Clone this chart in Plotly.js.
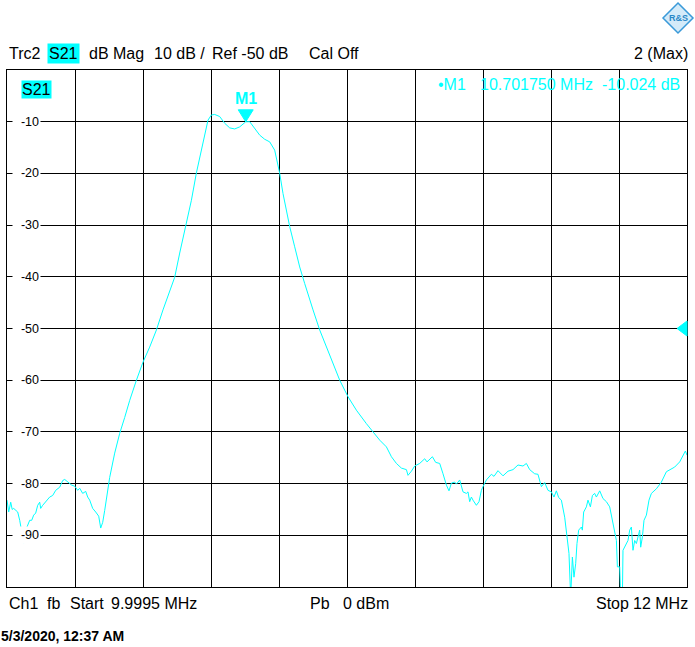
<!DOCTYPE html>
<html>
<head>
<meta charset="utf-8">
<script src="https://cdn.plot.ly/plotly-3.0.1.min.js"></script>
<style>
  html, body { margin: 0; padding: 0; background: #ffffff; }
  #chart { width: 695px; height: 647px; }
</style>
</head>
<body>
<div id="chart"></div>
<script>
// ---- data ----
const freqMHz = [
  9.9995, 10.0045, 10.0104, 10.0148, 10.0192, 10.0251, 10.0310, 10.0369, 10.0427, 10.0486,
  10.0545, 10.0604, 10.0663, 10.0722, 10.0780, 10.0839, 10.0898, 10.0957, 10.0986, 10.1045,
  10.1133, 10.1251, 10.1339, 10.1428, 10.1545, 10.1634, 10.1693, 10.1781, 10.1899, 10.1987,
  10.2075, 10.2134, 10.2222, 10.2310, 10.2369, 10.2428, 10.2516, 10.2605, 10.2693, 10.2752,
  10.2810, 10.2869, 10.2928, 10.3016, 10.3163, 10.3310, 10.3458, 10.3605, 10.3802, 10.3996,
  10.4192, 10.4390, 10.4584, 10.4781, 10.4928, 10.5076, 10.5273, 10.5420, 10.5567, 10.5664,
  10.5811, 10.5908, 10.6008, 10.6105, 10.6252, 10.6399, 10.6547, 10.6694, 10.6841, 10.70175,
  10.7135, 10.7282, 10.7429, 10.7576, 10.7723, 10.7870, 10.7938, 10.8018, 10.8115, 10.8215,
  10.8312, 10.8459, 10.8606, 10.8753, 10.8900, 10.8998, 10.9195, 10.9392, 10.9586, 10.9783,
  11.0027, 11.0274, 11.0568, 11.0763, 11.0960, 11.1157, 11.1304, 11.1451, 11.1598, 11.1745,
  11.1792, 11.1892, 11.1989, 11.2136, 11.2283, 11.2351, 11.2510, 11.2607, 11.2725, 11.2822,
  11.2922, 11.2998, 11.3069, 11.3166, 11.3216, 11.3313, 11.3410, 11.3510, 11.3557, 11.3607,
  11.3657, 11.3704, 11.3804, 11.3881, 11.3951, 11.3998, 11.4098, 11.4245, 11.4322, 11.4439,
  11.4587, 11.4734, 11.4881, 11.5028, 11.5175, 11.5275, 11.5372, 11.5519, 11.5616, 11.5716,
  11.5813, 11.5910, 11.6010, 11.6087, 11.6157, 11.6225, 11.6304, 11.6402, 11.6469, 11.6528,
  11.6578, 11.6628, 11.6675, 11.6725, 11.6763, 11.6813, 11.6893, 11.6922, 11.6960, 11.7040,
  11.7087, 11.7158, 11.7217, 11.7284, 11.7334, 11.7432, 11.7529, 11.7629, 11.7726, 11.7823,
  11.7873, 11.7923, 11.7952, 11.8020, 11.8049, 11.8099, 11.8117, 11.8167, 11.8264, 11.8314,
  11.8364, 11.8411, 11.8461, 11.8511, 11.8558, 11.8608, 11.8638, 11.8688, 11.8735, 11.8805,
  11.8882, 11.8952, 11.9100, 11.9247, 11.9394, 11.9541, 11.9638, 11.9785, 11.9882, 11.9953,
  12.0000
];
const s21dB = [
  -83.2, -85.5, -83.6, -85.0, -84.8, -85.2, -85.5, -87.1, -89.0, -91.5,
  -89.0, -88.1, -87.1, -87.1, -86.1, -85.7, -84.2, -83.6, -84.8, -84.2,
  -83.6, -82.6, -82.3, -81.3, -80.7, -79.4, -79.2, -79.7, -80.3, -80.5,
  -81.3, -80.9, -81.9, -81.5, -82.6, -83.2, -84.8, -85.5, -86.3, -88.6,
  -87.5, -85.2, -82.3, -78.8, -74.1, -70.3, -67.2, -63.9, -60.0, -56.5,
  -53.6, -50.3, -46.4, -43.0, -40.1, -35.4, -29.6, -25.2, -19.9, -16.8,
  -12.2, -9.7, -8.7, -8.6, -9.0, -10.3, -11.2, -11.4, -11.0, -10.024,
  -10.0, -11.3, -12.6, -13.4, -13.9, -15.5, -17.4, -20.0, -23.9, -27.1,
  -30.3, -34.2, -38.1, -41.3, -44.5, -46.4, -50.3, -53.6, -56.8, -60.0,
  -63.2, -65.8, -68.4, -70.0, -71.6, -72.9, -74.8, -76.1, -77.0, -77.3,
  -78.4, -77.6, -76.6, -76.1, -75.2, -75.8, -74.8, -75.9, -76.1, -78.1,
  -80.3, -81.4, -79.9, -79.7, -80.1, -79.3, -81.6, -81.9, -81.6, -83.5,
  -82.6, -83.2, -84.2, -83.5, -81.3, -80.6, -79.3, -78.2, -78.6, -77.5,
  -78.5, -77.6, -77.3, -76.4, -76.6, -76.1, -77.3, -78.1, -78.2, -80.6,
  -79.8, -81.3, -81.6, -82.6, -81.4, -82.7, -83.2, -86.5, -90.3, -93.5,
  -102.0, -94.2, -98.1, -95.5, -91.6, -89.0, -88.4, -89.0, -85.5, -84.5,
  -83.2, -84.5, -82.3, -81.9, -82.6, -81.4, -82.9, -83.5, -84.5, -87.7,
  -90.0, -91.0, -96.1, -96.1, -102.0, -102.0, -92.9, -92.3, -91.0, -89.0,
  -88.4, -92.9, -91.0, -91.6, -90.3, -89.0, -92.3, -90.3, -87.1, -86.1,
  -83.2, -81.9, -81.0, -79.7, -77.7, -77.1, -76.8, -75.8, -74.5, -73.7,
  -74.5
];
const startMHz = 9.9995;
const stopMHz = 12.0;
const markerFreq = [10.70175];
const markerDb = [-10.024];
const refLevelDb = -50;
const yTickVals = [-10, -20, -30, -40, -50, -60, -70, -80, -90];
const yTickLabels = ['-10', '-20', '-30', '-40', '-50', '-60', '-70', '-80', '-90'];

// ---- layout helpers (pixel -> paper) ----
const PL = 7, PR = 687, PT = 70, PB = 587;
const px = x => (x - PL) / (PR - PL);
const py = y => (PB - y) / (PB - PT);
const CYAN = '#00FFFF';
const FONT = 'Liberation Sans, Arial, sans-serif';

function txt(text, x, y, opts) {
  return Object.assign({
    text: text, xref: 'paper', yref: 'paper', x: px(x), y: py(y),
    xanchor: 'left', yanchor: 'middle', showarrow: false,
    font: {family: FONT, size: 16, color: '#000000'}
  }, opts || {});
}

const annotations = [
  txt('Trc2', 7, 54),
  txt('S21', 47, 54, {bgcolor: CYAN, borderpad: 1}),
  txt('dB Mag', 87, 54),
  txt('10 dB /', 152, 54),
  txt('Ref -50 dB', 210, 54),
  txt('Cal Off', 307, 54),
  txt('2 (Max)', 690, 54, {xanchor: 'right'}),
  txt('S21', 36.5, 90, {xanchor: 'center', bgcolor: CYAN, borderpad: 0}),
  txt('\u2022M1', 436, 85, {font: {family: FONT, size: 16, color: CYAN}}),
  txt('10.701750 MHz', 478, 85, {font: {family: FONT, size: 16, color: CYAN}}),
  txt('-10.024 dB', 600, 85, {font: {family: FONT, size: 16, color: CYAN}}),
  {
    text: '<b>M1</b>', xref: 'x', yref: 'y', x: markerFreq[0], y: markerDb[0],
    xanchor: 'center', yanchor: 'middle', yshift: 23, showarrow: false,
    font: {family: FONT, size: 16, color: CYAN}
  },
  txt('Ch1', 7, 603),
  txt('fb', 45, 603),
  txt('Start', 68, 603),
  txt('9.9995 MHz', 109, 603),
  txt('Pb', 308, 603),
  txt('0 dBm', 341, 603),
  txt('Stop', 594, 603),
  txt('12 MHz', 690, 603, {xanchor: 'right'}),
  txt('<b>5/3/2020, 12:37 AM</b>', -1, 636, {font: {family: FONT, size: 14, color: '#000000'}}),
  txt('<b>R&amp;S</b>', 678, 18, {xanchor: 'center', font: {family: FONT, size: 9, color: '#2a88c8'}})
];

yTickVals.forEach((v, i) => {
  annotations.push({
    text: yTickLabels[i], xref: 'paper', yref: 'y', x: px(41), y: v,
    xanchor: 'right', yanchor: 'middle', showarrow: false,
    width: 25, align: 'right', bgcolor: '#ffffff', borderpad: 1,
    font: {family: FONT, size: 12.5, color: '#000000'}
  });
});

const shapes = [
  // M1 marker triangle (tip at the marker point)
  {
    type: 'path', xref: 'x', yref: 'y', xsizemode: 'pixel', ysizemode: 'pixel',
    xanchor: markerFreq[0], yanchor: markerDb[0],
    path: 'M0,0 L-7.5,12 L7.5,12 Z', fillcolor: CYAN, line: {color: CYAN, width: 1}
  },
  // reference level triangle on the right edge
  {
    type: 'path', xref: 'paper', yref: 'y', xsizemode: 'pixel', ysizemode: 'pixel',
    xanchor: 1, yanchor: refLevelDb,
    path: 'M-10,0 L0,7.5 L0,-7.5 Z', fillcolor: CYAN, line: {color: CYAN, width: 1}
  },
  // R&S logo diamond
  {
    type: 'path', xref: 'paper', yref: 'paper',
    path: 'M' + px(678) + ',' + py(3) + ' L' + px(693) + ',' + py(18) + ' L' + px(678) + ',' + py(33) + ' L' + px(663) + ',' + py(18) + ' Z',
    fillcolor: '#d4ebf9', line: {color: '#3a9ad9', width: 1.5}
  }
];

const trace = {
  x: freqMHz, y: s21dB, type: 'scatter', mode: 'lines',
  line: {color: CYAN, width: 1}, hoverinfo: 'skip', showlegend: false
};

const layout = {
  width: 695, height: 647,
  margin: {l: PL, r: 695 - PR, t: PT, b: 647 - PB, pad: 0},
  paper_bgcolor: '#ffffff', plot_bgcolor: '#ffffff',
  showlegend: false,
  xaxis: {
    range: [startMHz, stopMHz], tick0: startMHz, dtick: (stopMHz - startMHz) / 10,
    showgrid: true, gridcolor: '#000000', gridwidth: 1,
    showline: true, mirror: true, linecolor: '#000000', linewidth: 1,
    zeroline: false, showticklabels: false, ticks: '', fixedrange: true
  },
  yaxis: {
    range: [-100, 0], tick0: 0, dtick: 10,
    showgrid: true, gridcolor: '#000000', gridwidth: 1,
    showline: true, mirror: true, linecolor: '#000000', linewidth: 1,
    zeroline: false, showticklabels: false, ticks: '', fixedrange: true
  },
  annotations: annotations,
  shapes: shapes
};

Plotly.newPlot('chart', [trace], layout, {staticPlot: true, displayModeBar: false});
</script>
</body>
</html>
